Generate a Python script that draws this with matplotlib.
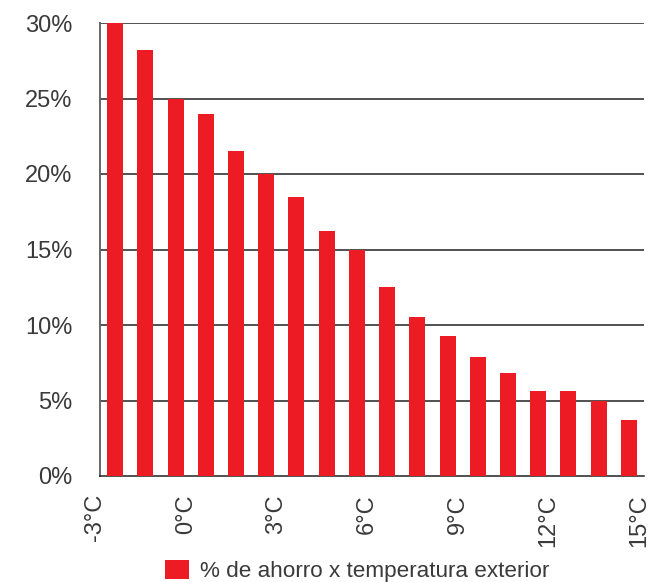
import matplotlib.pyplot as plt
from matplotlib.patches import Patch
from matplotlib.transforms import ScaledTranslation

# bars sit between whole degrees, labels on the boundaries every 3 degrees
savings = [30.0, 28.2, 25.0, 24.0, 21.5, 20.0, 18.5, 16.2, 15.0,
           12.5, 10.5, 9.3, 7.9, 6.8, 5.6, 5.6, 5.0, 3.7]
tick_temps = [-3, 0, 3, 6, 9, 12, 15]
y_ticks = [0, 5, 10, 15, 20, 25, 30]
legend_label = "% de ahorro x temperatura exterior"

RED = "#ED1C24"
TEXT = "#3a3a3a"

plt.rcParams["font.family"] = ["Liberation Sans", "DejaVu Sans"]

W, H = 649, 582
fig = plt.figure(figsize=(W / 100, H / 100), dpi=100)
ax = fig.add_axes([100 / W, 1 - 476 / H, 544 / W, 453 / H])

x = [i + 0.5 for i in range(len(savings))]
ax.bar(x, savings, width=0.53, color=RED, zorder=3)

ax.set_xlim(0, len(savings))
ax.set_ylim(0, 30)

ax.set_yticks(y_ticks)
ax.set_yticklabels([f"{v}%" for v in y_ticks])
tick_pos = [t - tick_temps[0] for t in tick_temps]
ax.set_xticks(tick_pos)
ax.set_xticklabels([f"{t}°C" for t in tick_temps], rotation=90)

ax.tick_params(axis="y", length=0, pad=20, labelsize=17, labelcolor=TEXT)
ax.tick_params(axis="x", length=0, pad=13, labelsize=17, labelcolor=TEXT)

# labels sit a little left of their boundary in the original
shift = ScaledTranslation(-5 / 100, 0, fig.dpi_scale_trans)
for lbl in ax.get_xticklabels():
    lbl.set_transform(lbl.get_transform() + shift)

for v in y_ticks[1:]:
    ax.axhline(v, color="#222222", lw=1.1, zorder=2)

for side in ["top", "right"]:
    ax.spines[side].set_visible(False)
ax.spines["left"].set_color("#666666")
ax.spines["left"].set_linewidth(1.4)
ax.spines["bottom"].set_color("#222222")
ax.spines["bottom"].set_linewidth(1.1)

handle = Patch(facecolor=RED, edgecolor="none")
fig.legend([handle], [legend_label], loc="center",
           bbox_to_anchor=(357 / W, 1 - 571 / H), frameon=False,
           fontsize=16.2, labelcolor=TEXT, handlelength=1.05, handleheight=0.95,
           handletextpad=0.5, borderpad=0, borderaxespad=0)

fig.savefig("out.png", dpi=100)
